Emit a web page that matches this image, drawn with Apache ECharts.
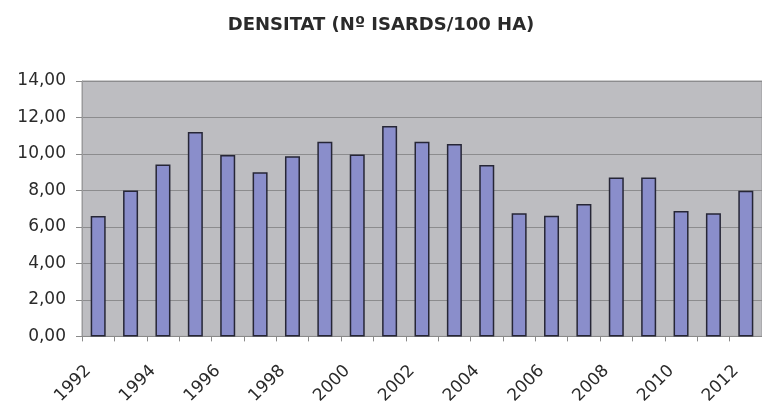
<!DOCTYPE html>
<html>
<head>
<meta charset="utf-8">
<script src="https://cdn.jsdelivr.net/npm/echarts@6/dist/echarts.min.js"></script>
<style>
html,body{margin:0;padding:0;background:#fff;}
#chart{width:762px;height:407px;}
</style>
</head>
<body>
<div id="chart"></div>
<script>
const titleText = 'DENSITAT (Nº ISARDS/100 HA)';
const years = ['1992','1993','1994','1995','1996','1997','1998','1999','2000','2001','2002','2003','2004','2005','2006','2007','2008','2009','2010','2011','2012'];
const density = [6.6, 8.0, 9.42, 11.2, 9.95, 9.0, 9.87, 10.67, 9.97, 11.53, 10.67, 10.55, 9.4, 6.75, 6.61, 7.26, 8.71, 8.71, 6.88, 6.75, 7.99];
const yMin = 0, yMax = 14, yStep = 2;

const chart = echarts.init(document.getElementById('chart'), null, {renderer:'canvas'});
chart.setOption({
  animation: false,
  backgroundColor: '#ffffff',
  title: {
    text: titleText,
    left: 'center',
    top: 11,
    textStyle: {fontFamily: 'DejaVu Sans', fontWeight: 'bold', fontSize: 18, color: '#2a2a2a'}
  },
  grid: {
    left: 82, top: 81, width: 686, height: 256,
    show: true, backgroundColor: '#bdbdc1', borderColor: '#9a9a9c', borderWidth: 1
  },
  xAxis: {
    type: 'category',
    data: years,
    boundaryGap: true,
    axisLine: {show: true, lineStyle: {color: '#8a8a8a', width: 1}},
    axisTick: {show: true, interval: 0, length: 5, lineStyle: {color: '#8a8a8a'}},
    axisLabel: {
      interval: 1, rotate: 45, margin: 22, align: 'right',
      padding: [0, 14, 0, 0],
      fontFamily: 'DejaVu Sans', fontSize: 17, color: '#2a2a2a'
    },
    splitLine: {show: false}
  },
  yAxis: {
    type: 'value',
    min: yMin, max: yMax, interval: yStep,
    axisLine: {show: true, lineStyle: {color: '#9a9a9c'}},
    axisTick: {show: true, length: 6, lineStyle: {color: '#8a8a8a'}},
    axisLabel: {
      margin: 16,
      fontFamily: 'DejaVu Sans', fontSize: 17, color: '#2a2a2a',
      formatter: v => v.toFixed(2).replace('.', ',')
    },
    splitLine: {show: true, lineStyle: {color: '#8c8c8e', width: 1}}
  },
  series: [{
    type: 'bar',
    data: density,
    barWidth: 15,
    itemStyle: {color: '#8a8ecb', borderColor: '#262636', borderWidth: 1.5}
  }]
});
</script>
</body>
</html>
